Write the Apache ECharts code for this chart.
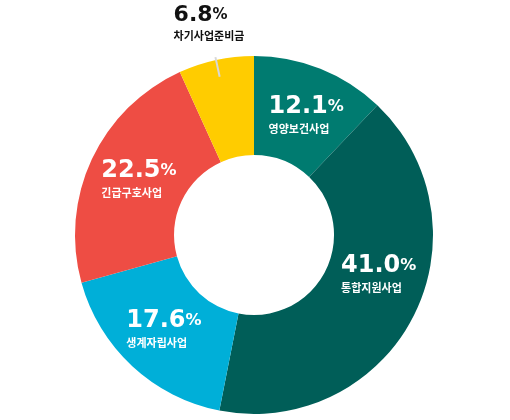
<!DOCTYPE html>
<html>
<head>
<meta charset="utf-8">
<script src="https://cdn.jsdelivr.net/npm/echarts@6/dist/echarts.min.js"></script>
<style>
  html, body { margin: 0; padding: 0; background: #fff; }
  #chart { width: 510px; height: 420px; }
</style>
</head>
<body>
<div id="chart"></div>
<script>
// 사업별 비율 (%)
var names = ['영양보건사업', '통합지원사업', '생계자립사업', '긴급구호사업', '차기사업준비금'];
var values = [12.1, 41.0, 17.6, 22.5, 6.8];
var colors = ['#007b70', '#005e58', '#00afd8', '#ee4d44', '#ffcc00'];
var outsideIdx = 4; // 차기사업준비금 label sits outside

var myChart = echarts.init(document.getElementById('chart'));

var numFont = 'DejaVu Sans';
var richStyle = {
    v: { fontSize: 24, fontWeight: 'bold', fontFamily: numFont, color: '#fff', lineHeight: 28, align: 'left' },
    p: { fontSize: 16, fontWeight: 'bold', fontFamily: numFont, color: '#fff', lineHeight: 28, align: 'left' },
    n: { fontSize: 11, fontWeight: 'bold', fontFamily: 'Noto Sans CJK KR', color: '#fff', lineHeight: 16, align: 'left' }
};
var richDark = {
    v: { fontSize: 22, fontWeight: 'bold', fontFamily: numFont, color: '#111', lineHeight: 26, align: 'left' },
    p: { fontSize: 15, fontWeight: 'bold', fontFamily: numFont, color: '#111', lineHeight: 26, align: 'left' },
    n: { fontSize: 11, fontWeight: 'bold', fontFamily: 'Noto Sans CJK KR', color: '#111', lineHeight: 16, align: 'left' }
};

function fmt(p) {
    return '{v|' + p.value.toFixed(1) + '}{p|%}\n{n|' + p.name + '}';
}

var mainData = names.map(function (n, i) {
    return {
        name: n, value: values[i],
        itemStyle: { color: colors[i] },
        label: { show: i !== outsideIdx }
    };
});
var tickData = names.map(function (n, i) {
    return {
        name: n, value: values[i],
        label: { show: i === outsideIdx },
        labelLine: { show: i === outsideIdx }
    };
});

// inside label nudges
var nudge = { 0: [3, 3], 1: [7, -22], 2: [0, -3], 3: [5, 0] };

var option = {
    animation: false,
    series: [
        {
            type: 'pie',
            center: [254, 235],
            radius: [80, 179],
            startAngle: 90,
            clockwise: true,
            silent: true,
            label: {
                position: 'inside',
                formatter: fmt,
                rich: richStyle
            },
            labelLine: { show: false },
            labelLayout: function (params) {
                var d = nudge[params.dataIndex];
                if (!d) return {};
                return { dx: d[0], dy: d[1] };
            },
            data: mainData
        },
        {
            type: 'pie',
            center: [254, 235],
            radius: [0, 162],
            startAngle: 90,
            clockwise: true,
            silent: true,
            z: 5,
            itemStyle: { color: 'rgba(0,0,0,0)' },
            label: {
                position: 'outside',
                formatter: fmt,
                rich: richDark
            },
            labelLine: {
                show: true,
                length: 20,
                length2: 0,
                lineStyle: { color: '#d8d8d8', width: 2 }
            },
            labelLayout: function (params) {
                if (params.dataIndex !== outsideIdx) return {};
                return {
                    dx: 34,
                    dy: -34,
                    labelLinePoints: params.labelLinePoints
                };
            },
            data: tickData
        }
    ]
};
myChart.setOption(option);
</script>
</body>
</html>
